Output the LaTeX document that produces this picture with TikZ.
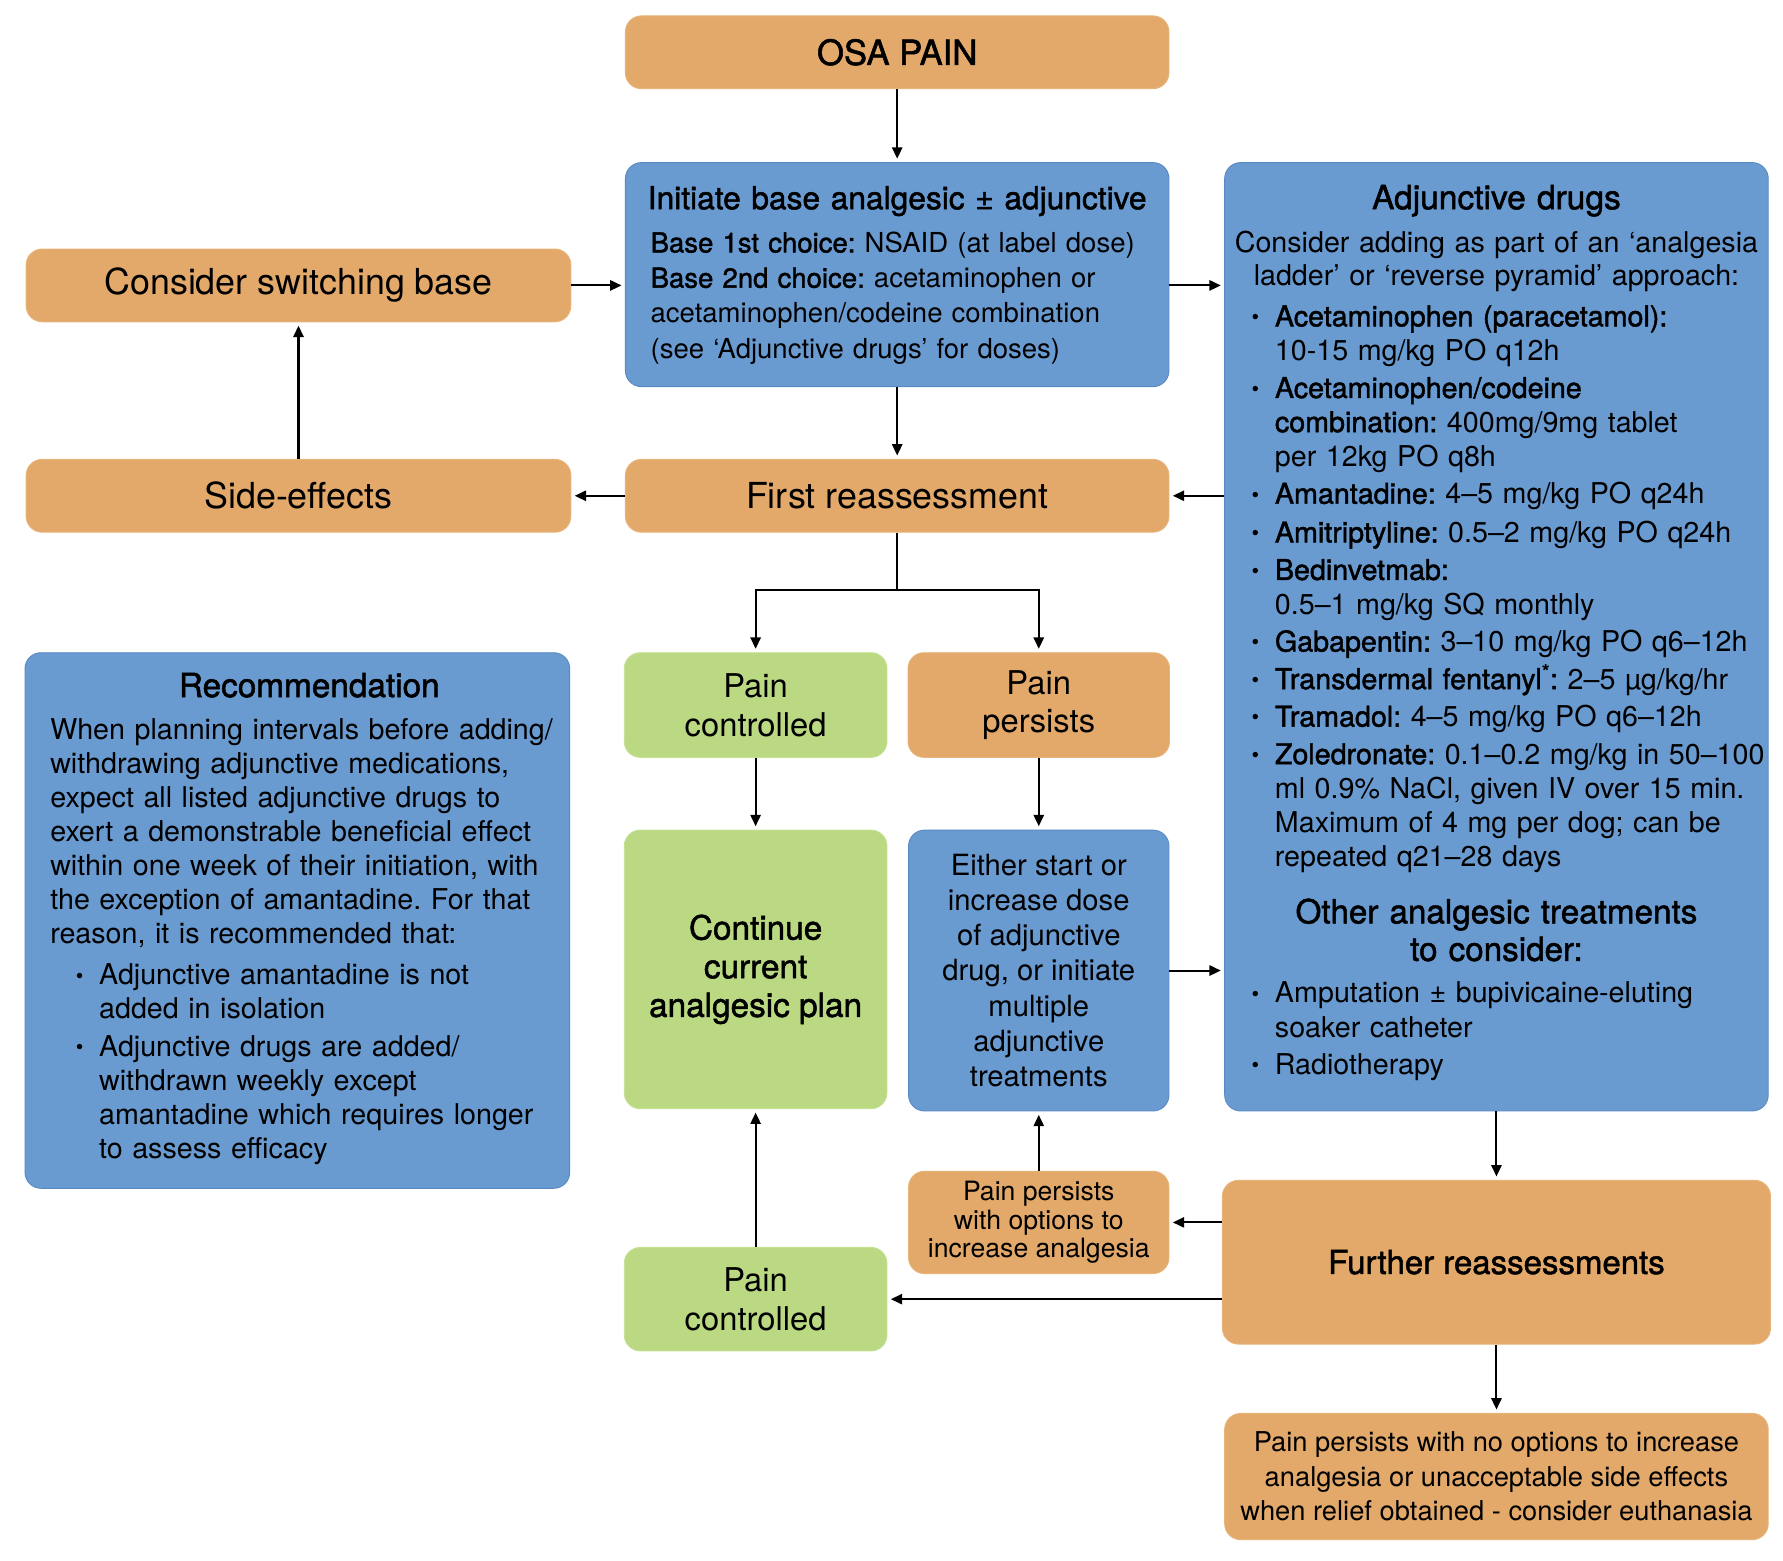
\documentclass[tikz,border=0pt]{standalone}
\usepackage{fontspec}
\setmainfont{TeX Gyre Heros}
\newfontfamily\medfont{TeX Gyre Heros}[FakeBold=1.5]
\newcommand\md[1]{{\medfont #1}}
\newcommand\fsz[2]{\fontsize{#1}{#2}\selectfont}
\newcommand\bul{\raisebox{1.5pt}{\fontsize{19}{19}\selectfont •}}
\usetikzlibrary{arrows.meta}
\frenchspacing
\definecolor{oran}{RGB}{226,169,107}
\definecolor{oranE}{RGB}{232,180,122}
\definecolor{blu}{RGB}{105,154,208}
\definecolor{bluE}{RGB}{88,138,196}
\definecolor{grn}{RGB}{187,217,131}
\definecolor{grnE}{RGB}{196,224,145}
\begin{document}
\begin{tikzpicture}[x=1pt,y=-1pt,
  bx/.style={rectangle, rounded corners=14pt, inner sep=0pt, align=center, line width=0.8pt},
  ob/.style={bx, fill=oran, draw=oranE},
  bb/.style={bx, fill=blu, draw=bluE},
  gb/.style={bx, fill=grn, draw=grnE},
  arr/.style={-{Triangle[length=10pt,width=9pt]}, line width=1.8pt, shorten >=3pt},
  ln/.style={line width=1.8pt},
  txt/.style={inner sep=0pt, text width=470pt, align=left, anchor=base west, font=\fsz{25.2}{30}},
  ctr/.style={inner sep=0pt, text width=480pt, align=center, anchor=base},
  bulnode/.style={inner sep=0pt, anchor=base, font=\fsz{25.2}{30}}
]
\fill[white] (0,0) rectangle (1568,1372);
\useasboundingbox (0,0) rectangle (1568,1372);

% ---------- boxes ----------
\node[ob, minimum width=478pt, minimum height=64pt, font=\fsz{30.5}{34}\medfont] (osa) at (789,46) {OSA PAIN};
\node[bb, minimum width=478pt, minimum height=197pt] (init) at (789,241.5) {};
\node[bb, minimum width=478pt, minimum height=834pt] (adj) at (1316,560) {};
\node[ob, minimum width=479pt, minimum height=64pt, font=\fsz{31.5}{34}] (switch) at (262.5,251) {Consider switching base};
\node[ob, minimum width=479pt, minimum height=64pt, font=\fsz{31.5}{34}] (side) at (262.5,436) {Side-effects};
\node[ob, minimum width=478pt, minimum height=64pt, font=\fsz{31.5}{34}] (first) at (789,436) {First reassessment};
\node[gb, minimum width=231pt, minimum height=92pt, font=\fsz{28.8}{34}] (pc1) at (664.5,620) {Pain\\controlled};
\node[ob, minimum width=230pt, minimum height=92pt, font=\fsz{28.8}{34}] (pp1) at (913.5,620) {Pain\\persists};
\node[bb, minimum width=479pt, minimum height=471pt] (rec) at (261.5,809.5) {};
\node[gb, minimum width=231pt, minimum height=245pt, font=\fsz{29.3}{34}\medfont] (cont) at (664.5,852.5) {Continue\\current\\analgesic plan};
\node[bb, minimum width=229pt, minimum height=247pt, font=\fsz{25.7}{31}] (either) at (913.5,853.5) {Either start or\\increase dose\\of adjunctive\\drug, or initiate\\multiple\\adjunctive\\treatments};
\node[ob, minimum width=229pt, minimum height=90pt, font=\fsz{23.4}{25}] (ppo) at (913.5,1075) {Pain persists\\with options to\\increase analgesia};
\node[ob, minimum width=482pt, minimum height=144pt, font=\fsz{29}{34}\medfont] (further) at (1316,1110) {Further reassessments};
\node[gb, minimum width=231pt, minimum height=91pt, font=\fsz{28.8}{34}] (pc2) at (664.5,1142.5) {Pain\\controlled};
\node[ob, minimum width=478pt, minimum height=111pt, font=\fsz{24}{30.5}] (ppn) at (1316,1298.5) {Pain persists with no options to increase\\analgesia or unacceptable side effects\\when relief obtained - consider euthanasia};

% ---------- Initiate box text ----------
\node[ctr, font=\fsz{27.9}{32}\medfont] (initT) at (789,184) {Initiate base analgesic ± adjunctive};
\node[txt, font=\fsz{24.2}{31}] (initB) at (572,222) {\md{Base 1st choice:} NSAID (at label dose)\\\md{Base 2nd choice:} acetaminophen or\\acetaminophen/codeine combination\\(see ‘Adjunctive drugs’ for doses)};

% ---------- Adjunctive drugs text ----------
\node[ctr, font=\fsz{29.5}{34}\medfont] (adjT) at (1316,184) {Adjunctive drugs};
\node[ctr, font=\fsz{25.2}{29.5}] (adjI) at (1316,222) {Consider adding as part of an ‘analgesia\\ladder’ or ‘reverse pyramid’ approach:};
\node[bulnode] (b1) at (1104,287) {\bul};
\node[txt] (a1) at (1121,287) {\md{Acetaminophen (paracetamol):}\\10-15 mg/kg PO q12h};
\node[bulnode] (b2) at (1104,350) {\bul};
\node[txt] (a2) at (1121,350) {\md{Acetaminophen/codeine}\\\md{combination:} 400mg/9mg tablet\\per 12kg PO q8h};
\node[bulnode] (b3) at (1104,443) {\bul};
\node[txt] (a3) at (1121,443) {\md{Amantadine:} 4–5 mg/kg PO q24h};
\node[bulnode] (b4) at (1104,477) {\bul};
\node[txt] (a4) at (1121,477) {\md{Amitriptyline:} 0.5–2 mg/kg PO q24h};
\node[bulnode] (b5) at (1104,510) {\bul};
\node[txt] (a5) at (1121,510) {\md{Bedinvetmab:}\\0.5–1 mg/kg SQ monthly};
\node[bulnode] (b6) at (1104,573) {\bul};
\node[txt] (a6) at (1121,573) {\md{Gabapentin:} 3–10 mg/kg PO q6–12h};
\node[bulnode] (b7) at (1104,606) {\bul};
\node[txt] (a7) at (1121,606) {\md{Transdermal fentanyl\textsuperscript{*}:} 2–5 µg/kg/hr};
\node[bulnode] (b8) at (1104,639) {\bul};
\node[txt] (a8) at (1121,639) {\md{Tramadol:} 4–5 mg/kg PO q6–12h};
\node[bulnode] (b9) at (1104,672) {\bul};
\node[txt] (a9) at (1121,672) {\md{Zoledronate:} 0.1–0.2 mg/kg in 50–100\\ml 0.9\% NaCl, given IV over 15 min.\\Maximum of 4 mg per dog; can be\\repeated q21–28 days};
\node[ctr, font=\fsz{29.2}{33}\medfont] (othT) at (1316,812) {Other analgesic treatments\\to consider:};
\node[bulnode] (b10) at (1104,882) {\bul};
\node[txt] (o1) at (1121,882) {Amputation ± bupivicaine-eluting\\soaker catheter};
\node[bulnode] (b11) at (1104,945) {\bul};
\node[txt] (o2) at (1121,945) {Radiotherapy};

% ---------- Recommendation text ----------
\node[ctr, font=\fsz{29.3}{34}\medfont] (recT) at (272,613) {Recommendation};
\node[txt] (recB) at (44,650) {When planning intervals before adding/\\withdrawing adjunctive medications,\\expect all listed adjunctive drugs to\\exert a demonstrable beneficial effect\\within one week of their initiation, with\\the exception of amantadine. For that\\reason, it is recommended that:};
\node[bulnode] (r1b) at (70,866) {\bul};
\node[txt] (r1) at (87,866) {Adjunctive amantadine is not\\added in isolation};
\node[bulnode] (r2b) at (70,929) {\bul};
\node[txt] (r2) at (87,929) {Adjunctive drugs are added/\\withdrawn weekly except\\amantadine which requires longer\\to assess efficacy};

% ---------- connectors ----------
\coordinate (split) at (789,519);
\draw[arr] (osa) -- (init);
\draw[arr] (switch.east) -- (switch.east -| init.west);
\draw[arr] (init.east |- switch.east) -- (adj.west |- switch.east);
\draw[arr] (init) -- (first);
\draw[arr] (first) -- (side);
\draw[arr] (side) -- (switch);
\draw[arr] (adj.west |- first.east) -- (first.east);
\draw[ln] (first.south) -- (split);
\draw[arr] (split) -| (pc1.north);
\draw[arr] (split) -| (pp1.north);
\draw[arr] (pc1) -- (cont);
\draw[arr] (pp1) -- (either);
\draw[arr] (either.east) -- (either.east -| adj.west);
\draw[arr] (ppo) -- (either);
\draw[arr] (further.west |- ppo.east) -- (ppo.east);
\draw[arr] (further.west |- pc2.east) -- (pc2.east);
\draw[arr] (pc2) -- (cont);
\draw[arr] (adj) -- (further);
\draw[arr] (further) -- (ppn);
\end{tikzpicture}
\end{document}
